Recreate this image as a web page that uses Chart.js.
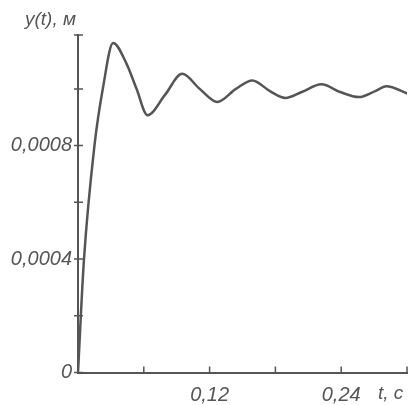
<!DOCTYPE html>
<html>
<head>
<meta charset="utf-8">
<script src="https://cdn.jsdelivr.net/npm/chart.js@4/dist/chart.umd.min.js"></script>
<style>
  html, body { margin: 0; padding: 0; background: #ffffff; }
  #wrap { width: 418px; height: 405px; }
</style>
</head>
<body>
<div id="wrap"><canvas id="stepChart"></canvas></div>
<script>
// time, s
var tValues = [0, 0.0054, 0.015, 0.0227, 0.032, 0.0441, 0.0532, 0.0635,
    0.079, 0.095, 0.111, 0.127, 0.144, 0.159, 0.175, 0.189, 0.204, 0.222, 0.239, 0.256, 0.271, 0.281, 0.301];
// displacement, m
var yValues = [0, 0.000396, 0.0008, 0.001002, 0.001162, 0.00109, 0.001002, 0.000907,
    0.000977, 0.001053, 0.001, 0.000954, 0.001, 0.00103, 0.000992, 0.000968, 0.000989, 0.001016, 0.000989, 0.000971, 0.000992, 0.001009, 0.000983];

var xTickValues = [0.12, 0.24];
var xTickLabels = ['0,12', '0,24'];
var yTickValues = [0, 0.0004, 0.0008];
var yTickLabels = ['0', '0,0004', '0,0008'];

var yAxisTitle = 'y(t), м';
var xAxisTitle = 't, c';

var inkColor = '#555555';
var labelFont = { family: "'Liberation Sans', 'DejaVu Sans', sans-serif", size: 20, style: 'italic' };

function findLabel(values, labels, value) {
    for (var i = 0; i < values.length; i++) {
        if (Math.abs(values[i] - value) < 1e-9) {
            return labels[i];
        }
    }
    return '';
}

var points = tValues.map(function (t, i) {
    return { x: t, y: yValues[i] };
});

// short tick marks on the axes, plus the two axis names
var axisMarks = {
    id: 'axisMarks',
    afterDraw: function (chart) {
        var ctx = chart.ctx;
        var xs = chart.scales.x;
        var ys = chart.scales.y;
        var area = chart.chartArea;

        ctx.save();
        ctx.strokeStyle = inkColor;
        ctx.lineWidth = 1.5;
        ctx.beginPath();
        ys.ticks.forEach(function (tick) {
            var py = ys.getPixelForValue(tick.value);
            ctx.moveTo(area.left - 4, py);
            ctx.lineTo(area.left + 5, py);
        });
        xs.ticks.forEach(function (tick) {
            var px = xs.getPixelForValue(tick.value);
            ctx.moveTo(px, area.bottom);
            ctx.lineTo(px, area.bottom - 6);
        });
        ctx.stroke();

        ctx.fillStyle = inkColor;
        ctx.font = 'italic 19px ' + labelFont.family;
        ctx.textBaseline = 'middle';
        ctx.textAlign = 'left';
        ctx.fillText(yAxisTitle, area.left - 53, area.top - 15);
        ctx.fillText(xAxisTitle, area.right - 29, area.bottom + 21);
        ctx.restore();
    }
};

var ctx = document.getElementById('stepChart').getContext('2d');
var stepChart = new Chart(ctx, {
    type: 'scatter',
    data: {
        datasets: [{
            data: points,
            showLine: true,
            borderColor: inkColor,
            borderWidth: 2.5,
            pointRadius: 0,
            pointHoverRadius: 0,
            cubicInterpolationMode: 'monotone',
            fill: false
        }]
    },
    options: {
        responsive: true,
        maintainAspectRatio: false,
        animation: false,
        layout: { padding: { top: 35, right: 9, left: 0, bottom: 0 } },
        plugins: {
            legend: { display: false },
            tooltip: { enabled: false }
        },
        scales: {
            x: {
                type: 'linear',
                min: 0,
                max: 0.3,
                grid: { display: false, drawTicks: false },
                border: { display: true, color: inkColor, width: 2 },
                ticks: {
                    stepSize: 0.06,
                    autoSkip: false,
                    maxRotation: 0,
                    padding: 11,
                    color: inkColor,
                    font: labelFont,
                    callback: function (value) {
                        return findLabel(xTickValues, xTickLabels, value);
                    }
                },
                afterFit: function (scale) {
                    scale.height = 32.5;
                }
            },
            y: {
                type: 'linear',
                min: 0,
                max: 0.00119,
                grid: { display: false, drawTicks: false },
                border: { display: true, color: inkColor, width: 2 },
                ticks: {
                    stepSize: 0.0002,
                    autoSkip: false,
                    padding: 6,
                    color: inkColor,
                    font: labelFont,
                    callback: function (value) {
                        return findLabel(yTickValues, yTickLabels, value);
                    }
                },
                afterFit: function (scale) {
                    scale.width = 78;
                }
            }
        }
    },
    plugins: [axisMarks]
});
</script>
</body>
</html>
